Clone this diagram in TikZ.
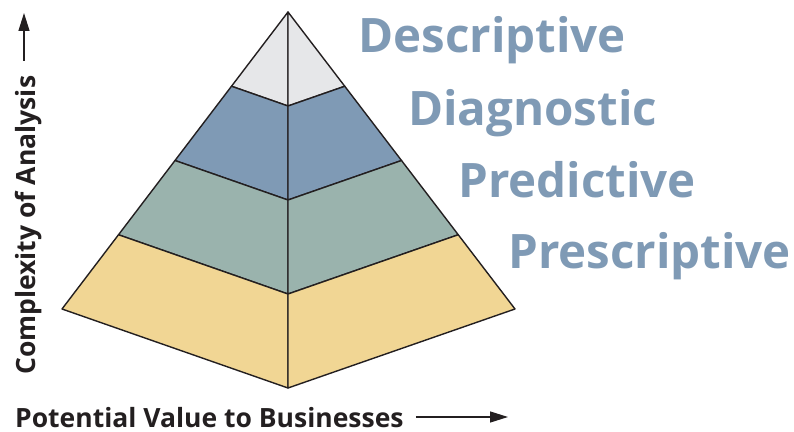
\documentclass[tikz,border=0pt]{standalone}
\usepackage{fontspec}
\setmainfont{Open Sans}
\usetikzlibrary{calc,arrows.meta}
\definecolor{tierGray}{HTML}{E6E7E9}
\definecolor{tierBlue}{HTML}{7F9AB5}
\definecolor{tierGreen}{HTML}{9AB3AD}
\definecolor{tierYellow}{HTML}{F1D694}
\definecolor{inkDark}{HTML}{231F20}
\begin{document}
\begin{tikzpicture} [x=1pt, y=1pt,
                face_style/.style={draw=inkDark, line width=1.4pt, line join=round},
                tier_label/.style={anchor=base west, inner sep=0pt, text=tierBlue, font=\fontsize{47.5}{48}\selectfont\bfseries},
                axis_label/.style={anchor=base west, inner sep=0pt, text=inkDark, font=\fontsize{26.5}{27}\selectfont\bfseries}]
                \tikzset{axis arrow/.style={draw=inkDark, line width=1.4pt, -{Triangle[length=18pt, width=11pt]}}}
                \useasboundingbox (0,0) rectangle (794,431);
                \coordinate (apex) at (288,419);
                \coordinate (left) at (62,122);
                \coordinate (right) at (515,122);
                \coordinate (front) at (288,43);
                \foreach \i/\t in {0/0, 1/0.25, 2/0.5, 3/0.75, 4/1} {
                    \coordinate (l\i) at ($(apex)!\t!(left)$);
                    \coordinate (f\i) at ($(apex)!\t!(front)$);
                    \coordinate (r\i) at ($(apex)!\t!(right)$);
                }
                \foreach \i/\j/\c in {0/1/tierGray, 1/2/tierBlue, 2/3/tierGreen, 3/4/tierYellow} {
                    \draw [face_style, fill=\c] (l\i) -- (f\i) -- (f\j) -- (l\j) -- cycle;
                    \draw [face_style, fill=\c] (f\i) -- (r\i) -- (r\j) -- (f\j) -- cycle;
                }
                \node [tier_label] (descriptive) at (358,378) {Descriptive};
                \node [tier_label] (diagnostic) at (408,305) {Diagnostic};
                \node [tier_label] (predictive) at (458,233) {Predictive};
                \node [tier_label] (prescriptive) at (508,162) {Prescriptive};
                \node [axis_label] (value) at (15,4) {Potential Value to Businesses};
                \node [axis_label, rotate=90] (complexity) at (35,56) {Complexity of Analysis};
                \coordinate (value end) at (508,14);
                \coordinate (complexity end) at (24,418);
                \draw [axis arrow] ($(value.base east)+(12,10)$) coordinate (value start) -- (value end);
                \draw [axis arrow] ($(complexity.base east)+(-11,15)$) coordinate (complexity start) -- (complexity end);
            \end{tikzpicture}
\end{document}
